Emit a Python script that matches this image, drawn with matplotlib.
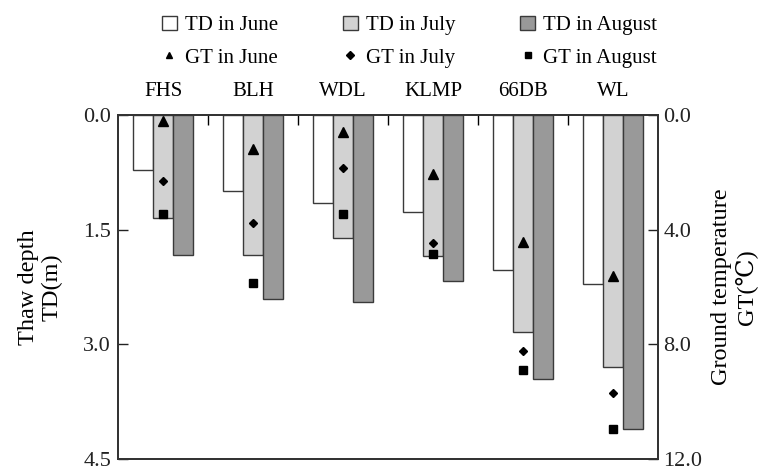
import matplotlib
matplotlib.use("Agg")
import matplotlib.pyplot as plt
import numpy as np
from matplotlib.patches import Patch
from matplotlib.lines import Line2D

plt.rcParams['font.family'] = ['Liberation Serif', 'DejaVu Serif']
plt.rcParams['font.size'] = 15

sites = ["FHS", "BLH", "WDL", "KLMP", "66DB", "WL"]
td_june = [0.72, 1.00, 1.15, 1.27, 2.02, 2.21]
td_july = [1.35, 1.83, 1.61, 1.84, 2.84, 3.29]
td_aug = [1.83, 2.40, 2.44, 2.17, 3.45, 4.10]
gt_june = [0.20, 1.19, 0.58, 2.06, 4.42, 5.61]
gt_july = [2.29, 3.77, 1.84, 4.45, 8.23, 9.70]
gt_aug = [3.46, 5.87, 3.45, 4.86, 8.90, 10.95]
left_ticks = [0.0, 1.5, 3.0, 4.5]
right_ticks = [0.0, 4.0, 8.0, 12.0]

c_june, c_july, c_aug = "white", "#d2d2d2", "#999999"
edge = "#3a3a3a"

fig = plt.figure(figsize=(7.74, 4.70), dpi=100)
ax = fig.add_axes([0.1525, 0.023, 0.6976, 0.7323])
x = np.arange(len(sites))
w = 0.222
ax.bar(x - w, td_june, w, color=c_june, edgecolor=edge, linewidth=1)
ax.bar(x, td_july, w, color=c_july, edgecolor=edge, linewidth=1)
ax.bar(x + w, td_aug, w, color=c_aug, edgecolor=edge, linewidth=1)
ax.set_xlim(-0.5, len(sites) - 0.5)
ax.set_ylim(4.5, 0.0)
ax.set_yticks(left_ticks)
ax.set_yticklabels([f"{v:.1f}" for v in left_ticks])
ax.tick_params(axis='y', direction='in', length=7, width=1, pad=5, colors='#222', labelsize=16)
ax.xaxis.tick_top()
ax.set_xticks(x)
ax.set_xticklabels(sites)
ax.tick_params(axis='x', which='major', length=0, pad=10)
ax.set_xticks(np.arange(0.5, len(sites) - 0.5, 1.0), minor=True)
ax.tick_params(axis='x', which='minor', direction='in', length=7, width=1, top=True, bottom=False)
ax.set_ylabel("Thaw depth\nTD(m)", fontsize=17.5, labelpad=15, linespacing=1.15)
for s in ax.spines.values():
    s.set_color('#333333')
    s.set_linewidth(1.3)

ax2 = ax.twinx()
ax2.set_ylim(12.0, 0.0)
ax2.plot(x, gt_june, linestyle='none', marker='^', color='black', markersize=7)
ax2.plot(x, gt_july, linestyle='none', marker='D', color='black', markersize=4.5)
ax2.plot(x, gt_aug, linestyle='none', marker='s', color='black', markersize=5.5)
ax2.set_yticks(right_ticks)
ax2.set_yticklabels([f"{v:.1f}" for v in right_ticks])
ax2.tick_params(axis='y', direction='in', length=7, width=1, pad=4, colors='#222', labelsize=16)
ax2.set_ylabel("Ground temperature\nGT(\u2103)", fontsize=17.5, labelpad=6, linespacing=1.15)
for s in ax2.spines.values():
    s.set_color('#333333')
    s.set_linewidth(1.3)

handles = [
    Patch(facecolor=c_june, edgecolor=edge, linewidth=1),
    Line2D([], [], linestyle='none', marker='^', color='black', markersize=5),
    Patch(facecolor=c_july, edgecolor=edge, linewidth=1),
    Line2D([], [], linestyle='none', marker='D', color='black', markersize=4),
    Patch(facecolor=c_aug, edgecolor=edge, linewidth=1),
    Line2D([], [], linestyle='none', marker='s', color='black', markersize=4.5),
]
labels = ["TD in June", "GT in June", "TD in July", "GT in July", "TD in August", "GT in August"]
fig.legend(handles, labels, ncol=3, frameon=False, loc='upper left',
           bbox_to_anchor=(0.1985, 0.984), handlelength=0.7, handleheight=0.7,
           handletextpad=0.4, columnspacing=3.12, labelspacing=0.6, borderaxespad=0)

fig.savefig("out.png", dpi=100)
